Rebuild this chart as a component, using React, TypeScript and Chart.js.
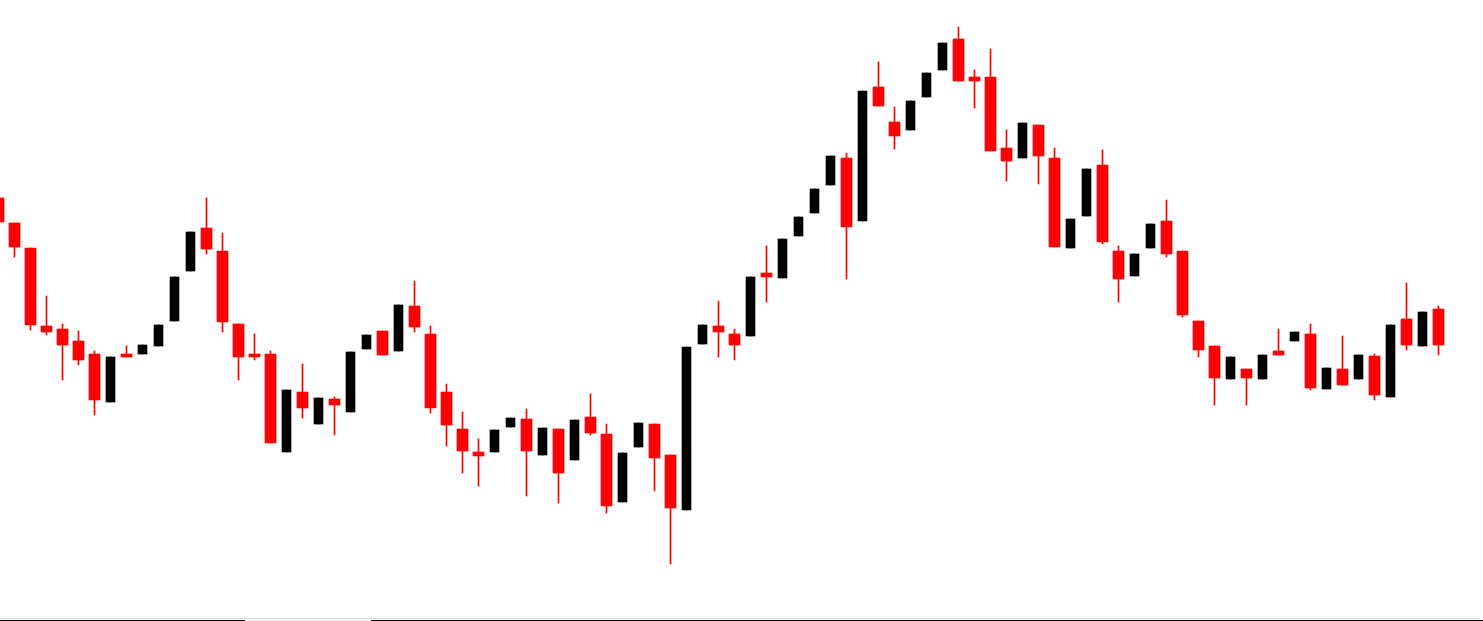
import { useEffect, useRef } from "react";
import { Chart, registerables } from "chart.js";

Chart.register(...registerables);

// Candle index (0 = first, partly clipped at the left edge)
const openPrices = [
  42.3, 39.8, 37.3, 29.5, 29.2, 28.0, 26.7, 21.9, 26.7, 26.7,
  27.5, 30.0, 35.0, 39.3, 37.0, 29.7, 26.7, 26.7, 16.9, 22.9,
  19.7, 22.2, 20.9, 27.2, 29.0, 27.0, 31.5, 28.7, 22.9, 19.2,
  16.9, 16.9, 19.4, 20.2, 16.6, 19.2, 16.1, 20.4, 18.7, 11.9,
  17.4, 19.7, 16.6, 11.1, 27.7, 29.5, 28.7, 28.5, 34.8, 34.3,
  38.5, 40.8, 43.6, 46.3, 40.0, 53.4, 49.9, 49.1, 52.4, 55.1,
  58.2, 54.4, 54.4, 47.3, 46.3, 49.6, 46.3, 37.3, 40.5, 45.6,
  37.0, 34.5, 37.3, 40.0, 37.0, 30.0, 27.5, 24.2, 25.2, 24.2,
  27.0, 28.0, 28.7, 23.2, 25.2, 24.2, 26.5, 22.4, 30.2, 27.5,
  31.2,
];
const highPrices = [
  42.3, 39.8, 37.3, 32.5, 29.7, 29.0, 27.0, 26.4, 27.5, 27.6,
  29.6, 34.4, 38.9, 42.3, 38.8, 29.7, 28.7, 27.0, 23.1, 25.7,
  22.3, 22.4, 26.9, 28.6, 29.0, 31.6, 34.0, 29.5, 23.7, 20.9,
  18.2, 19.1, 20.3, 21.2, 19.3, 19.2, 20.1, 22.7, 19.7, 16.8,
  19.8, 19.7, 16.6, 27.4, 29.6, 32.0, 29.2, 34.4, 37.5, 38.2,
  40.4, 43.2, 46.5, 46.8, 53.0, 55.9, 51.4, 52.0, 54.8, 57.8,
  59.4, 55.1, 57.2, 49.1, 49.8, 49.6, 47.3, 40.2, 45.2, 47.1,
  37.5, 36.7, 39.7, 42.1, 37.0, 30.0, 27.5, 26.4, 25.2, 26.6,
  29.2, 28.9, 29.7, 25.3, 28.5, 26.6, 26.7, 29.6, 33.8, 30.9,
  31.5,
];
const lowPrices = [
  39.9, 36.4, 29.1, 28.6, 24.1, 25.6, 20.6, 21.9, 26.4, 26.7,
  27.5, 30.0, 35.0, 36.7, 28.9, 24.1, 26.1, 17.8, 16.9, 20.3,
  19.7, 18.6, 20.9, 27.2, 26.6, 27.0, 28.9, 20.8, 17.5, 14.8,
  13.5, 16.9, 19.4, 12.5, 16.6, 11.8, 16.1, 18.6, 10.8, 11.9,
  17.4, 13.0, 5.7, 11.1, 27.7, 26.4, 26.1, 28.5, 31.9, 34.3,
  38.5, 40.8, 43.6, 34.2, 40.0, 51.5, 47.2, 49.1, 52.4, 55.1,
  54.0, 51.3, 47.0, 44.0, 46.3, 43.7, 37.4, 37.3, 40.5, 37.7,
  31.9, 34.5, 37.3, 36.4, 30.4, 26.4, 21.6, 24.2, 21.6, 24.2,
  26.6, 28.0, 23.1, 23.2, 23.6, 24.2, 22.1, 22.4, 27.1, 27.5,
  26.6,
];
const closePrices = [
  39.9, 37.4, 29.6, 28.9, 27.6, 26.1, 22.1, 26.4, 26.4, 27.6,
  29.6, 34.4, 38.9, 37.2, 29.9, 26.4, 26.4, 17.8, 23.1, 21.3,
  22.3, 21.6, 26.9, 28.6, 26.6, 31.6, 29.4, 21.3, 19.6, 17.0,
  16.5, 19.1, 20.3, 17.0, 19.3, 14.8, 20.1, 18.8, 11.5, 16.8,
  19.8, 16.3, 11.3, 27.4, 29.6, 28.9, 27.6, 34.4, 34.4, 38.2,
  40.4, 43.2, 46.5, 39.4, 53.0, 51.5, 48.5, 52.0, 54.8, 57.8,
  54.0, 54.0, 47.0, 46.0, 49.8, 46.5, 37.4, 40.2, 45.2, 37.9,
  34.2, 36.7, 39.7, 36.7, 30.6, 27.1, 24.3, 26.4, 24.3, 26.6,
  26.6, 28.9, 23.3, 25.3, 23.6, 26.6, 22.6, 29.6, 27.6, 30.9,
  27.6,
];

const PRICE_MIN = 0;
const PRICE_MAX = 62.1;
const X_MIN = 0.09375;
const X_MAX = 92.78125;

const DOWN_COLOR = "#ff0000";
const UP_COLOR = "#000000";

export default function App() {
  const canvasRef = useRef<HTMLCanvasElement | null>(null);

  useEffect(() => {
    if (!canvasRef.current) return;
    const idx = openPrices.map((_, i) => i);
    const isDown = (i: number) => closePrices[i] < openPrices[i];

    const wicks = idx.map((i) => ({ x: i, y: [lowPrices[i], highPrices[i]] }));
    const wickColors = idx.map((i) => (isDown(i) ? DOWN_COLOR : UP_COLOR));
    const downBodies = idx
      .filter((i) => isDown(i))
      .map((i) => ({ x: i, y: [closePrices[i], openPrices[i]] }));
    const upBodies = idx
      .filter((i) => !isDown(i))
      .map((i) => ({ x: i, y: [openPrices[i], closePrices[i]] }));

    const chart = new Chart(canvasRef.current, {
      type: "bar",
      data: {
        datasets: [
          {
            label: "wick",
            data: wicks as any,
            backgroundColor: wickColors,
            barThickness: 1,
            grouped: false,
            borderWidth: 0,
            order: 3,
          },
          {
            label: "down",
            data: downBodies as any,
            backgroundColor: DOWN_COLOR,
            barThickness: 11,
            grouped: false,
            borderWidth: 0,
            order: 2,
          },
          {
            label: "up",
            data: upBodies as any,
            backgroundColor: UP_COLOR,
            barThickness: 9,
            grouped: false,
            borderWidth: 0,
            order: 1,
          },
        ],
      },
      options: {
        responsive: false,
        animation: false,
        layout: { padding: 0 },
        plugins: {
          legend: { display: false },
          tooltip: { enabled: false },
        },
        scales: {
          x: {
            type: "linear",
            min: X_MIN,
            max: X_MAX,
            offset: false,
            display: false,
            grid: { display: false },
          },
          y: {
            type: "linear",
            min: PRICE_MIN,
            max: PRICE_MAX,
            display: false,
            grid: { display: false },
          },
        },
      },
    });
    return () => chart.destroy();
  }, []);

  return (
    <div
      style={{
        position: "fixed",
        left: 0,
        top: 0,
        width: 1483,
        height: 621,
        background: "#ffffff",
        overflow: "hidden",
      }}
    >
      <canvas ref={canvasRef} width={1483} height={621} style={{ display: "block" }} />
      <div style={{ position: "absolute", left: 0, top: 618, width: 1480, height: 1, background: "#dcdcdc" }} />
      <div style={{ position: "absolute", left: 0, top: 620, width: 245, height: 1, background: "#000000" }} />
      <div style={{ position: "absolute", left: 245, top: 620, width: 126, height: 1, background: "#eeeeee" }} />
      <div style={{ position: "absolute", left: 371, top: 620, width: 1112, height: 1, background: "#000000" }} />
    </div>
  );
}
